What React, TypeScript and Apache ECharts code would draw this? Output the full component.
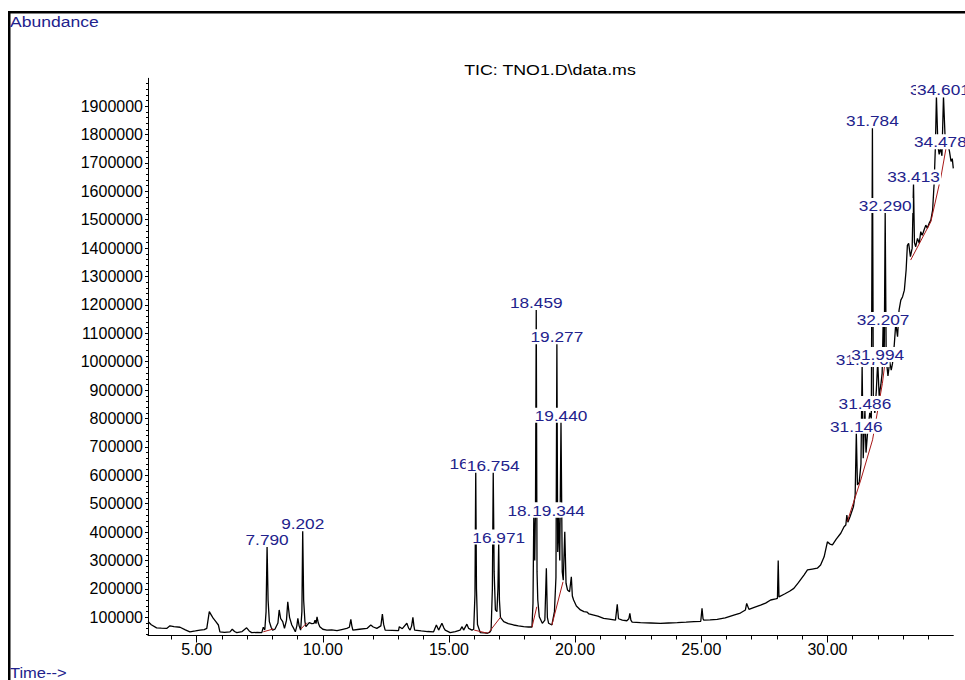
import React, { useEffect, useRef } from "react";
import * as echarts from "echarts";

const FONT = '"Liberation Sans", Arial, Helvetica, sans-serif';
const NAVY = "#22228c";
const RED = "#a81818";

const xTickValues = [5, 10, 15, 20, 25, 30];
const yTickValues = [
  100000, 200000, 300000, 400000, 500000, 600000, 700000, 800000, 900000, 1000000,
  1100000, 1200000, 1300000, 1400000, 1500000, 1600000, 1700000, 1800000, 1900000,
];

// TIC trace: [retention time (min), abundance]
const trace: [number, number][] = [
  [3.07, 85000], [3.2, 74000], [3.41, 63000], [3.6, 62000], [3.81, 61000], [3.94, 70000],
  [4.1, 67000], [4.34, 65000], [4.55, 56000], [4.73, 49000], [4.95, 52000], [5.13, 55000],
  [5.3, 57000], [5.4, 61000], [5.5, 120000], [5.58, 108000], [5.66, 96000], [5.76, 85000],
  [5.86, 73000], [5.92, 49000], [6.1, 47000], [6.32, 49000], [6.41, 58000], [6.5, 50000],
  [6.59, 46000], [6.8, 50000], [6.98, 63000], [7.08, 52000], [7.18, 46000], [7.4, 47000],
  [7.58, 46000], [7.64, 65000], [7.7, 56000], [7.75, 120000], [7.79, 351000], [7.83, 160000],
  [7.88, 85000], [7.95, 65000], [8.01, 55000], [8.1, 58000], [8.22, 80000], [8.27, 126000],
  [8.33, 95000], [8.41, 85000], [8.48, 61000], [8.56, 90000], [8.61, 155000], [8.68, 100000],
  [8.77, 73000], [8.85, 60000], [8.91, 49000], [8.97, 70000], [9.01, 96000], [9.06, 70000],
  [9.12, 55000], [9.17, 120000], [9.202, 407000], [9.24, 160000], [9.29, 85000], [9.33, 67000],
  [9.4, 75000], [9.46, 81000], [9.56, 78000], [9.65, 79000], [9.69, 90000], [9.73, 78000],
  [9.77, 102000], [9.82, 80000], [9.88, 67000], [10.0, 58000], [10.16, 55000], [10.35, 56000],
  [10.56, 53000], [10.75, 57000], [10.95, 61000], [11.05, 65000], [11.11, 93000], [11.15, 70000],
  [11.19, 55000], [11.45, 58000], [11.75, 61000], [11.9, 73000], [12.0, 66000], [12.14, 61000],
  [12.3, 70000], [12.36, 111000], [12.41, 75000], [12.47, 55000], [12.75, 54000], [13.0, 53000],
  [13.03, 67000], [13.15, 60000], [13.33, 79000], [13.4, 62000], [13.46, 55000], [13.52, 70000],
  [13.57, 100000], [13.61, 70000], [13.64, 55000], [13.9, 52000], [14.15, 50000], [14.39, 49000],
  [14.5, 73000], [14.59, 55000], [14.72, 79000], [14.8, 62000], [14.85, 55000], [15.05, 46000],
  [15.25, 50000], [15.44, 55000], [15.52, 67000], [15.58, 55000], [15.71, 76000], [15.78, 61000],
  [15.91, 55000], [15.98, 58000], [16.03, 180000], [16.061, 619000], [16.09, 200000], [16.13, 75000],
  [16.24, 46000], [16.4, 45000], [16.53, 44000], [16.62, 48000], [16.67, 55000], [16.72, 200000],
  [16.754, 613000], [16.79, 260000], [16.84, 126000], [16.9, 120000], [16.94, 200000], [16.971, 360000],
  [17.0, 160000], [17.04, 100000], [17.17, 85000], [17.35, 78000], [17.56, 73000], [17.75, 70000],
  [17.96, 67000], [18.15, 66000], [18.29, 66000], [18.33, 150000], [18.362, 455000], [18.4, 300000],
  [18.43, 500000], [18.459, 1186000], [18.49, 260000], [18.52, 161000], [18.58, 102000], [18.7, 79000],
  [18.8, 90000], [18.86, 273000], [18.9, 100000], [18.95, 79000], [19.08, 73000], [19.18, 120000],
  [19.24, 240000], [19.277, 1065000], [19.31, 330000], [19.344, 455000], [19.39, 300000], [19.44, 789000],
  [19.49, 260000], [19.53, 231000], [19.59, 401000], [19.64, 220000], [19.7, 196000], [19.78, 190000],
  [19.85, 243000], [19.89, 175000], [19.94, 161000], [20.05, 140000], [20.21, 126000], [20.35, 120000],
  [20.48, 118000], [20.55, 112000], [20.74, 108000], [20.9, 104000], [21.13, 96000], [21.35, 94000],
  [21.6, 90000], [21.67, 146000], [21.72, 95000], [21.87, 90000], [22.05, 88000], [22.13, 95000],
  [22.17, 114000], [22.21, 90000], [22.26, 83000], [22.59, 81000], [23.0, 80000], [23.38, 79000],
  [23.7, 80000], [24.05, 81000], [24.4, 83000], [24.71, 85000], [24.98, 86000], [25.03, 132000],
  [25.07, 95000], [25.1, 90000], [25.35, 91000], [25.63, 93000], [25.95, 98000], [26.29, 108000],
  [26.55, 115000], [26.75, 126000], [26.8, 149000], [26.89, 128000], [27.1, 135000], [27.35, 143000],
  [27.55, 150000], [27.75, 161000], [27.95, 165000], [28.02, 167000], [28.05, 300000], [28.08, 172000],
  [28.3, 182000], [28.5, 192000], [28.67, 202000], [28.85, 222000], [29.07, 249000], [29.21, 267000],
  [29.4, 270000], [29.6, 273000], [29.73, 284000], [29.87, 313000], [30.0, 366000], [30.1, 358000],
  [30.2, 355000], [30.35, 375000], [30.53, 396000], [30.66, 419000], [30.73, 425000], [30.77, 460000],
  [30.81, 435000], [30.9, 455000], [31.03, 489000], [31.1, 530000], [31.146, 750000], [31.19, 566000],
  [31.26, 575000], [31.33, 640000], [31.376, 985000], [31.42, 660000], [31.486, 830000], [31.53, 680000],
  [31.6, 760000], [31.68, 820000], [31.74, 800000], [31.784, 1826000], [31.82, 860000], [31.88, 820000],
  [31.94, 900000], [31.994, 1003000], [32.05, 880000], [32.12, 920000], [32.17, 960000], [32.207, 1126000],
  [32.25, 990000], [32.29, 1527000], [32.33, 1010000], [32.4, 950000], [32.47, 1000000], [32.53, 970000],
  [32.58, 994000], [32.65, 1060000], [32.71, 1135000], [32.78, 1088000], [32.84, 1182000], [32.91, 1217000],
  [32.98, 1229000], [33.05, 1252000], [33.12, 1323000], [33.17, 1410000], [33.22, 1417000], [33.29, 1370000],
  [33.36, 1400000], [33.413, 1628000], [33.45, 1420000], [33.5, 1405000], [33.57, 1434000], [33.64, 1417000],
  [33.7, 1458000], [33.76, 1445000], [33.83, 1464000], [33.9, 1481000], [33.96, 1470000], [34.03, 1487000],
  [34.1, 1499000], [34.17, 1534000], [34.23, 1628000], [34.28, 1757000], [34.321, 1935000], [34.38, 1760000],
  [34.43, 1730000], [34.478, 1752000], [34.54, 1725000], [34.601, 1935000], [34.66, 1800000], [34.72, 1790000],
  [34.78, 1765000], [34.84, 1740000], [34.9, 1705000], [34.95, 1715000], [34.99, 1681000],
];

// Integration baselines (red)
const baselines: [number, number][][] = [
  [[7.64, 49000], [8.04, 59000]],
  [[9.13, 59000], [9.37, 81000]],
  [[16.0, 55000], [16.53, 44000]],
  [[16.57, 46000], [17.04, 100000]],
  [[18.29, 65000], [18.48, 137000]],
  [[19.08, 73000], [19.52, 225000]],
  [[30.79, 437000], [31.32, 583000], [31.79, 725000], [32.18, 924000], [32.31, 1017000]],
  [[33.3, 1358000], [34.1, 1493000], [34.5, 1651000], [34.7, 1751000]],
];

// Peak annotations
const peakTimes = [
  7.79, 9.202, 16.061, 16.754, 16.971, 18.362, 18.459, 19.277, 19.344, 19.44,
  31.146, 31.376, 31.486, 31.784, 31.994, 32.207, 32.29, 33.413, 34.321, 34.478, 34.601,
];
const peakHeights = [
  351000, 407000, 619000, 613000, 360000, 455000, 1186000, 1065000, 455000, 789000,
  750000, 985000, 830000, 1826000, 1003000, 1126000, 1527000, 1628000, 1935000, 1752000, 1935000,
];
const peakLabels = [
  "7.790", "9.202", "16.061", "16.754", "16.971", "18.362", "18.459", "19.277", "19.344", "19.440",
  "31.146", "31.376", "31.486", "31.784", "31.994", "32.207", "32.290", "33.413", "34.321", "34.478", "34.601",
];

const titleText = "TIC: TNO1.D\\data.ms";
const yAxisName = "Abundance";
const xAxisName = "Time-->";

export default function App() {
  const ref = useRef<HTMLDivElement>(null);

  useEffect(() => {
    if (!ref.current) return;
    const chart = echarts.init(ref.current, null, { renderer: "svg" });

    const peakData = peakTimes.map((t, i) => [t, peakHeights[i]]);

    const option: any = {
      animation: false,
      backgroundColor: "#fff",
      grid: { left: 148, right: 11.7, top: 78.3, bottom: 44.5, containLabel: false },
      xAxis: {
        type: "value",
        min: 3.07,
        max: 34.99,
        splitNumber: 5,
        axisLine: { show: true, onZero: false, lineStyle: { color: "#000", width: 1 } },
        axisTick: { show: true, length: 7, lineStyle: { color: "#000", width: 1 }, customValues: xTickValues },
        minorTick: { show: true, splitNumber: 5, length: 4, lineStyle: { color: "#000", width: 1 } },
        axisLabel: {
          customValues: xTickValues,
          formatter: (v: number) => (Math.abs(v / 5 - Math.round(v / 5)) < 1e-6 ? v.toFixed(2) : ""),
          color: "#000",
          fontSize: 16,
          fontFamily: FONT,
          margin: 6,
        },
        splitLine: { show: false },
        minorSplitLine: { show: false },
      },
      yAxis: {
        type: "value",
        min: 36000,
        max: 1998000,
        splitNumber: 20,
        axisLine: { show: true, onZero: false, lineStyle: { color: "#000", width: 1 } },
        axisTick: { show: true, length: 3, lineStyle: { color: "#000", width: 1 }, customValues: yTickValues },
        minorTick: { show: true, splitNumber: 5, length: 2, lineStyle: { color: "#000", width: 1 } },
        axisLabel: {
          customValues: yTickValues,
          formatter: (v: number) => (v % 100000 === 0 ? String(v) : ""),
          color: "#000",
          fontSize: 16,
          fontFamily: FONT,
          margin: 5,
        },
        splitLine: { show: false },
        minorSplitLine: { show: false },
      },
      graphic: [
        {
          type: "rect",
          silent: true,
          shape: { x: 9.25, y: 12.25, width: 1200, height: 1000 },
          style: { fill: "none", stroke: "#000", lineWidth: 2.5 },
        },
        {
          type: "text",
          x: 10,
          y: 21,
          scaleX: 1.17,
          style: { text: yAxisName, font: `15px ${FONT}`, fill: NAVY, verticalAlign: "middle", align: "left" },
        },
        {
          type: "text",
          x: 550,
          y: 70,
          scaleX: 1.27,
          style: { text: titleText, font: `14px ${FONT}`, fill: "#000", verticalAlign: "middle", align: "center" },
        },
        {
          type: "text",
          x: 10,
          y: 673,
          scaleX: 1.1,
          style: { text: xAxisName, font: `15px ${FONT}`, fill: NAVY, verticalAlign: "middle", align: "left" },
        },
      ],
      series: [
        {
          type: "line",
          data: trace,
          symbol: "none",
          showSymbol: false,
          lineStyle: { color: "#000", width: 1.3 },
          z: 2,
          silent: true,
        },
        ...baselines.map((seg) => ({
          type: "line",
          data: seg,
          symbol: "none",
          showSymbol: false,
          lineStyle: { color: RED, width: 1 },
          z: 3,
          silent: true,
        })),
        {
          type: "custom",
          data: peakData,
          encode: { x: 0, y: 1 },
          z: 10,
          silent: true,
          clip: false,
          renderItem: (params: any, api: any) => {
            const p = api.coord([api.value(0), api.value(1)]);
            return {
              type: "text",
              x: p[0],
              y: p[1] + 1,
              scaleX: 1.15,
              z2: params.dataIndex,
              style: {
                text: peakLabels[params.dataIndex],
                font: `15px ${FONT}`,
                fill: NAVY,
                align: "center",
                verticalAlign: "bottom",
                backgroundColor: "#fff",
                padding: [0, 1, 0, 1],
              },
            };
          },
        },
      ],
    };

    chart.setOption(option);
    return () => chart.dispose();
  }, []);

  return (
    <div
      ref={ref}
      style={{ position: "fixed", left: 0, top: 0, width: 965, height: 680, background: "#fff" }}
    />
  );
}
